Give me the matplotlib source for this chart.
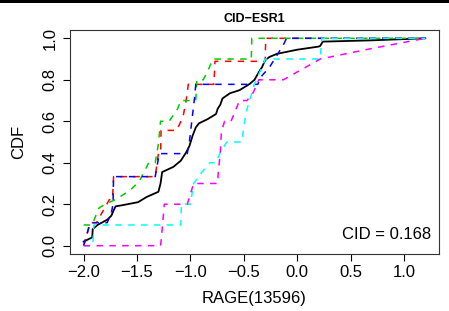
import matplotlib; matplotlib.use('Agg')
import matplotlib.pyplot as plt
from matplotlib.patches import Rectangle

# ECDF traces (x = RAGE value, y = cumulative fraction)
black_x = [-2.0, -1.92, -1.915, -1.87, -1.78, -1.74, -1.72, -1.70, -1.64, -1.49, -1.41, -1.30,
           -1.28, -1.265, -1.16, -1.09, -1.04, -1.01, -0.98, -0.95, -0.92, -0.84, -0.76, -0.745,
           -0.72, -0.70, -0.63, -0.54, -0.445, -0.40, -0.35, -0.33, -0.30, -0.26, -0.19, 0.0,
           0.2, 0.215, 0.24, 0.69, 1.2]
black_y = [0.02, 0.04, 0.08, 0.10, 0.125, 0.145, 0.17, 0.19, 0.195, 0.21, 0.235, 0.26,
           0.30, 0.355, 0.38, 0.41, 0.45, 0.48, 0.53, 0.57, 0.59, 0.61, 0.635, 0.66,
           0.68, 0.71, 0.735, 0.75, 0.78, 0.80, 0.845, 0.86, 0.895, 0.91, 0.925, 0.945,
           0.96, 0.963, 0.984, 0.99, 1.0]

red_x = [-2.0, -1.94, -1.88, -1.76, -1.73, -1.72, -1.33, -1.30, -1.28, -1.275, -1.13, -1.07,
         -1.04, -1.02, -0.78, -0.77, -0.30, -0.295, 1.2]
red_y = [0.0, 0.111, 0.111, 0.222, 0.222, 0.333, 0.333, 0.444, 0.444, 0.556, 0.556, 0.62,
         0.70, 0.778, 0.778, 0.889, 0.889, 1.0, 1.0]

green_x = [-2.0, -1.92, -1.86, -1.80, -1.69, -1.56, -1.48, -1.39, -1.33, -1.30, -1.28, -1.20,
           -1.12, -1.09, -0.95, -0.94, -0.88, -0.84, -0.79, -0.43, -0.425, 1.2]
green_y = [0.1, 0.1, 0.18, 0.2, 0.225, 0.27, 0.31, 0.4, 0.4, 0.49, 0.6, 0.6,
           0.66, 0.7, 0.7, 0.8, 0.8, 0.84, 0.9, 0.9, 1.0, 1.0]

blue_x = [-2.0, -1.95, -1.93, -1.78, -1.74, -1.725, -1.72, -1.33, -1.30, -1.29, -1.03, -1.01,
          -0.96, -0.95, -0.37, -0.33, -0.26, -0.13, -0.10, 1.2]
blue_y = [0.0, 0.09, 0.111, 0.111, 0.16, 0.2, 0.333, 0.333, 0.42, 0.444, 0.444, 0.50,
          0.72, 0.778, 0.778, 0.82, 0.86, 0.968, 1.0, 1.0]

cyan_x = [-2.0, -1.915, -1.905, -1.09, -1.085, -1.0, -0.97, -0.90, -0.82, -0.76, -0.72, -0.66,
          -0.52, -0.48, -0.40, -0.33, -0.30, 0.215, 0.23, 1.2]
cyan_y = [0.0, 0.0, 0.1, 0.1, 0.2, 0.2, 0.3, 0.35, 0.4, 0.4, 0.45, 0.5,
          0.5, 0.64, 0.78, 0.86, 0.9, 0.9, 1.0, 1.0]

magenta_x = [-2.0, -1.28, -1.27, -1.245, -1.03, -0.97, -0.745, -0.74, -0.72, -0.71, -0.68, -0.62,
             -0.54, -0.47, -0.41, -0.36, -0.13, 0.215, 0.69, 1.2]
magenta_y = [0.0, 0.0, 0.05, 0.2, 0.2, 0.3, 0.3, 0.35, 0.45, 0.55, 0.6, 0.6,
             0.7, 0.7, 0.74, 0.8, 0.8, 0.9, 0.95, 1.0]

x_ticks = [-2.0, -1.5, -1.0, -0.5, 0.0, 0.5, 1.0]
y_ticks = [0.0, 0.2, 0.4, 0.6, 0.8, 1.0]
title = 'CID\u2212ESR1'
cid_label = 'CID = 0.168'

plt.rcParams['font.family'] = ['Liberation Sans', 'DejaVu Sans']
plt.rcParams['axes.unicode_minus'] = True

fig = plt.figure(figsize=(4.49, 3.11), dpi=100)
ax = fig.add_axes([70 / 449, 57 / 311, 369 / 449, 224 / 311])

dash = (0, (4.2, 4.2))
ax.plot(black_x, black_y, color='black', lw=1.3)
ax.plot(red_x, red_y, color='#FF0000', lw=1.1, ls=dash)
ax.plot(green_x, green_y, color='#00CD00', lw=1.1, ls=dash)
ax.plot(blue_x, blue_y, color='#0000FF', lw=1.1, ls=dash)
ax.plot(cyan_x, cyan_y, color='#00FFFF', lw=1.1, ls=dash)
ax.plot(magenta_x, magenta_y, color='#FF00FF', lw=1.1, ls=dash)

ax.set_xlim(-2.128, 1.328)
ax.set_ylim(-0.04, 1.04)
ax.set_xticks(x_ticks)
ax.set_xticklabels([f'{v:.1f}'.replace('-', '\u2212') for v in x_ticks])
ax.set_yticks(y_ticks)
ax.set_yticklabels([f'{v:.1f}' for v in y_ticks], rotation=90, va='center')
ax.tick_params(direction='out', length=5, width=0.8, labelsize=12, color='black')
ax.tick_params(axis='x', pad=3)
ax.tick_params(axis='y', pad=4)
for s in ax.spines.values():
    s.set_linewidth(0.8)
    s.set_color('#333333')

ax.set_xlabel('RAGE(13596)', fontsize=12, labelpad=8)
ax.set_ylabel('CDF', fontsize=12, labelpad=12)
fig.text(254 / 449, 1 - 19 / 311, title, ha='center', va='center', fontsize=9, fontweight='bold')
ax.text(0.978, 0.085, cid_label, transform=ax.transAxes, ha='right', va='center', fontsize=12)

# thick black band along the top edge of the image
fig.patches.append(Rectangle((0, 1 - 2.6 / 311), 1, 2.6 / 311, transform=fig.transFigure,
                             color='black', lw=0))

fig.savefig('out.png', dpi=100)
